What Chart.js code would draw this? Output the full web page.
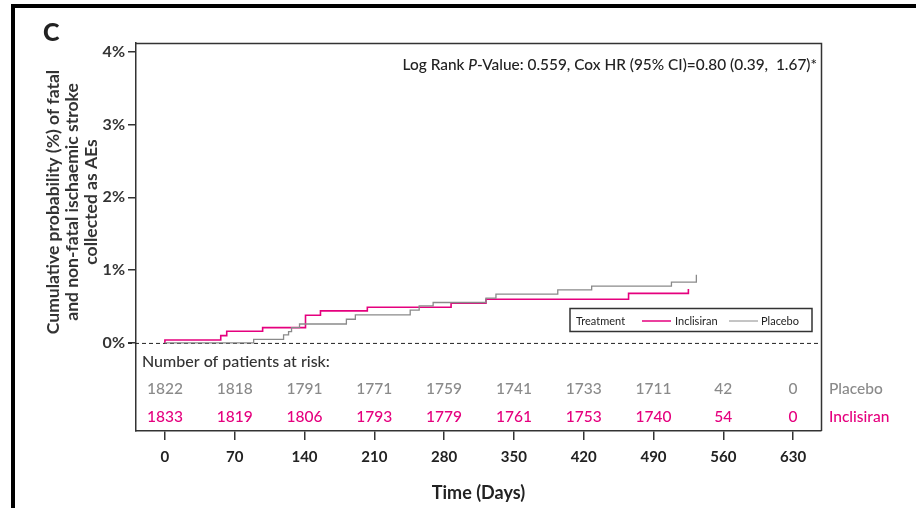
<!DOCTYPE html>
<html>
<head>
<meta charset="utf-8">
<script src="https://cdn.jsdelivr.net/npm/chart.js@4/dist/chart.umd.min.js"></script>
<style>
  html, body { margin: 0; padding: 0; background: #fff; }
  #wrap { width: 916px; height: 508px; position: relative; }
</style>
</head>
<body>
<div id="wrap"><canvas id="kmChart" width="916" height="508"></canvas></div>
<script>
// ===== DATA =====
const xTicks = [0, 70, 140, 210, 280, 350, 420, 490, 560, 630];
const yTicks = [0, 1, 2, 3, 4];

// step curves: day, cumulative %
const inclisiranDays = [0, 0, 56, 62, 98, 141, 156, 203, 287, 322, 465, 525];
const inclisiranPct  = [0, 0.04, 0.10, 0.16, 0.21, 0.38, 0.44, 0.49, 0.545, 0.60, 0.68, 0.74];

const placeboDays = [0, 89, 119, 124, 127, 135, 182, 191, 246, 255, 269, 322, 332, 394, 428, 508, 533];
const placeboPct  = [0, 0.05, 0.11, 0.155, 0.21, 0.26, 0.325, 0.385, 0.45, 0.51, 0.555, 0.615, 0.67, 0.73, 0.78, 0.835, 0.935];

// number at risk
const placeboRisk    = [1822, 1818, 1791, 1771, 1759, 1741, 1733, 1711, 42, 0];
const inclisiranRisk = [1833, 1819, 1806, 1793, 1779, 1761, 1753, 1740, 54, 0];

const PINK = "#e5007e";
const GREY = "#8a8a8a";
const FONT = "Lato, 'Open Sans', sans-serif";

function toPoints(days, pct) {
    return days.map((d, i) => ({ x: d, y: pct[i] }));
}

// ===== EXTRA DRAWING =====
const decorations = {
    id: "decorations",
    beforeDatasetsDraw(chart) {
        const ctx = chart.ctx;
        const a = chart.chartArea;
        const y0 = chart.scales.y.getPixelForValue(0);
        ctx.save();
        ctx.strokeStyle = "#222";
        ctx.lineWidth = 1;
        ctx.setLineDash([4, 3]);
        ctx.beginPath();
        ctx.moveTo(a.left - 8, y0 + 0.5);
        ctx.lineTo(a.right, y0 + 0.5);
        ctx.stroke();
        ctx.restore();
    },
    afterDraw(chart) {
        const ctx = chart.ctx;
        const a = chart.chartArea;
        const xs = chart.scales.x;
        ctx.save();

        // outer panel frame
        ctx.fillStyle = "#000";
        ctx.fillRect(11, 4, 905, 4);
        ctx.fillRect(11, 4, 4, 504);

        // plot frame top + right
        ctx.strokeStyle = "#333";
        ctx.lineWidth = 1.5;
        ctx.beginPath();
        ctx.moveTo(a.left, a.top + 0.5);
        ctx.lineTo(a.right + 0.5, a.top + 0.5);
        ctx.lineTo(a.right + 0.5, a.bottom);
        ctx.stroke();

        // panel letter
        ctx.fillStyle = "#222";
        ctx.font = "900 25px " + FONT;
        ctx.textAlign = "left";
        ctx.textBaseline = "middle";
        ctx.fillText("C", 43, 33);

        // y axis title
        ctx.save();
        ctx.translate(72, 202);
        ctx.rotate(-Math.PI / 2);
        ctx.font = "bold 17.5px " + FONT;
        ctx.textAlign = "center";
        ctx.textBaseline = "middle";
        ctx.fillStyle = "#333";
        ctx.fillText("Cumulative probability (%) of fatal", 0, -19);
        ctx.fillText("and non-fatal ischaemic stroke", 0, 0);
        ctx.fillText("collected as AEs", 0, 19);
        ctx.restore();

        // log rank annotation
        ctx.textBaseline = "middle";
        ctx.textAlign = "left";
        const parts = [
            ["Log Rank ", ""],
            ["P", "italic "],
            ["-Value: 0.559, Cox HR (95% CI)=0.80 (0.39,  1.67)*", ""]
        ];
        let total = 0;
        parts.forEach(p => {
            ctx.font = p[1] + "500 15.4px " + FONT;
            total += ctx.measureText(p[0]).width;
        });
        let tx = 817 - total;
        parts.forEach(p => {
            ctx.font = p[1] + "500 15.4px " + FONT;
            ctx.fillStyle = "#222";
            ctx.fillText(p[0], tx, 65);
            tx += ctx.measureText(p[0]).width;
        });

        // legend box
        ctx.strokeStyle = "#333";
        ctx.lineWidth = 1.5;
        ctx.strokeRect(570, 308.5, 242, 23);
        ctx.font = "11px " + FONT;
        ctx.fillStyle = "#222";
        ctx.textBaseline = "middle";
        ctx.fillText("Treatment", 576, 321);
        ctx.lineWidth = 1.5;
        ctx.strokeStyle = PINK;
        ctx.beginPath(); ctx.moveTo(642, 321); ctx.lineTo(671, 321); ctx.stroke();
        ctx.fillText("Inclisiran", 675, 321);
        ctx.lineWidth = 1;
        ctx.strokeStyle = GREY;
        ctx.beginPath(); ctx.moveTo(729, 321); ctx.lineTo(758, 321); ctx.stroke();
        ctx.fillText("Placebo", 761, 321);

        // at-risk table
        ctx.font = "500 16px " + FONT;
        ctx.fillStyle = "#333";
        ctx.textAlign = "left";
        ctx.fillText("Number of patients at risk:", 142, 362);
        ctx.font = "500 15.5px " + FONT;
        ctx.textAlign = "center";
        xTicks.forEach((d, i) => {
            const px = xs.getPixelForValue(d);
            ctx.fillStyle = GREY;
            ctx.fillText(String(placeboRisk[i]), px, 389);
            ctx.fillStyle = PINK;
            ctx.fillText(String(inclisiranRisk[i]), px, 417);
        });
        ctx.textAlign = "left";
        ctx.fillStyle = GREY;
        ctx.fillText("Placebo", 829, 389);
        ctx.fillStyle = PINK;
        ctx.fillText("Inclisiran", 829, 417);

        ctx.restore();
    }
};

// ===== CHART =====
new Chart(document.getElementById("kmChart"), {
    type: "line",
    data: {
        datasets: [
            {
                label: "Placebo",
                data: toPoints(placeboDays, placeboPct),
                borderColor: GREY,
                borderWidth: 1.3,
                stepped: "before",
                pointRadius: 0,
                fill: false
            },
            {
                label: "Inclisiran",
                data: toPoints(inclisiranDays, inclisiranPct),
                borderColor: PINK,
                borderWidth: 1.6,
                stepped: "before",
                pointRadius: 0,
                fill: false
            }
        ]
    },
    options: {
        responsive: false,
        animation: false,
        devicePixelRatio: 1,
        layout: { padding: { left: 0, top: 43, right: 95, bottom: 0 } },
        plugins: {
            legend: { display: false },
            tooltip: { enabled: false }
        },
        scales: {
            x: {
                type: "linear",
                min: -29,
                max: 658,
                afterBuildTicks: s => { s.ticks = xTicks.map(v => ({ value: v })); },
                afterFit: s => { s.height = 77; },
                grid: { drawOnChartArea: false, drawTicks: true, tickLength: 9, color: "#333", lineWidth: 1.5 },
                border: { display: true, color: "#333", width: 1.5 },
                ticks: {
                    padding: 8,
                    color: "#222",
                    font: { family: FONT, size: 15, weight: "bold" },
                    maxRotation: 0
                },
                title: {
                    display: true,
                    text: "Time (Days)",
                    color: "#222",
                    font: { family: FONT, size: 18, weight: "bold" },
                    padding: { top: 7 }
                }
            },
            y: {
                type: "linear",
                min: -1.21,
                max: 4.12,
                afterBuildTicks: s => { s.ticks = yTicks.map(v => ({ value: v })); },
                afterFit: s => { s.width = 136; },
                grid: { drawOnChartArea: false, drawTicks: true, tickLength: 8, color: "#333", lineWidth: 1.5 },
                border: { display: true, color: "#333", width: 1.5 },
                ticks: {
                    padding: 3,
                    color: "#333",
                    font: { family: FONT, size: 16, weight: "bold" },
                    callback: v => v + "%"
                }
            }
        }
    },
    plugins: [decorations]
});
</script>
</body>
</html>
